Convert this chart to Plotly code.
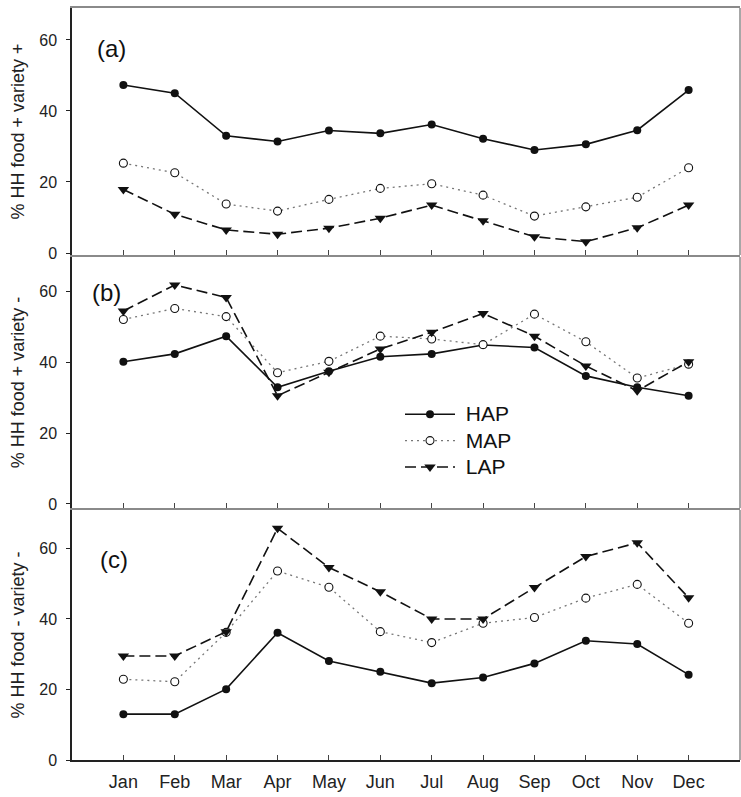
import plotly.graph_objects as go
from plotly.subplots import make_subplots

months = ["Jan", "Feb", "Mar", "Apr", "May", "Jun", "Jul", "Aug", "Sep", "Oct", "Nov", "Dec"]
month_idx = list(range(1, 13))

# Panel (a): % HH food + variety +
a_hap = [47.3, 45.0, 33.0, 31.4, 34.5, 33.7, 36.2, 32.2, 29.0, 30.6, 34.6, 45.9]
a_map = [25.3, 22.6, 13.8, 11.8, 15.1, 18.2, 19.5, 16.3, 10.4, 13.0, 15.7, 24.0]
a_lap = [17.9, 10.9, 6.5, 5.3, 7.0, 9.8, 13.5, 9.1, 4.6, 3.2, 7.1, 13.5]

# Panel (b): % HH food + variety -
b_hap = [40.1, 42.3, 47.3, 32.9, 37.4, 41.5, 42.3, 44.8, 44.1, 36.1, 32.9, 30.5]
b_map = [52.0, 55.1, 52.8, 37.0, 40.2, 47.3, 46.5, 44.9, 53.5, 45.7, 35.5, 39.4]
b_lap = [54.4, 61.7, 58.2, 30.5, 37.1, 43.7, 48.4, 53.7, 47.3, 38.9, 31.9, 40.1]

# Panel (c): % HH food - variety -
c_hap = [13.0, 13.0, 20.1, 36.1, 28.1, 25.0, 21.8, 23.4, 27.4, 33.8, 32.9, 24.2]
c_map = [22.9, 22.2, 36.2, 53.6, 49.0, 36.4, 33.3, 38.8, 40.4, 45.9, 49.8, 38.8]
c_lap = [29.5, 29.5, 36.4, 65.7, 54.6, 47.7, 40.0, 40.0, 48.9, 57.7, 61.6, 46.0]

y_titles = ["% HH food + variety +", "% HH food + variety -", "% HH food - variety -"]
panel_labels = ["(a)", "(b)", "(c)"]
series_names = ["HAP", "MAP", "LAP"]
y_ticks = [0, 20, 40, 60]

FONT = "Liberation Sans, Arial, sans-serif"
DARK = "#222222"
GRAY = "#8a8a8a"

fig = make_subplots(rows=3, cols=1, vertical_spacing=0)

panels = [(a_hap, a_map, a_lap), (b_hap, b_map, b_lap), (c_hap, c_map, c_lap)]
styles = [
    dict(line=dict(color="#111111", width=1.6),
         marker=dict(symbol="circle", size=8, color="#111111")),
    dict(line=dict(color="#777777", width=1.3, dash="2px,4px"),
         marker=dict(symbol="circle", size=8, color="white",
                     line=dict(color="#111111", width=1.1))),
    dict(line=dict(color="#111111", width=1.6, dash="11px,5px"),
         marker=dict(symbol="triangle-down", size=10, color="#111111")),
]

for r, vals in enumerate(panels, start=1):
    for name, v, st in zip(series_names, vals, styles):
        fig.add_trace(go.Scatter(x=month_idx, y=v, mode="lines+markers",
                                 name='<span style="font-size:21px">\u00a0' + name + '</span>',
                                 showlegend=(r == 2),
                                 line=st["line"], marker=st["marker"]),
                      row=r, col=1)

H = 752.0
def py(px):
    return (760 - px) / H

domains = [[py(255), 1.0], [py(508), py(257)], [0.0, py(510)]]
ranges = [[-0.56, 69.0], [-1.13, 69.6], [0, 70.9]]

for i in range(3):
    r = i + 1
    xline = DARK if r == 3 else GRAY
    fig.update_xaxes(row=r, col=1, range=[0, 13], tickvals=month_idx,
                     ticktext=months if r == 3 else [""] * 12,
                     showticklabels=(r == 3), automargin=False,
                     ticks="inside", ticklen=5, tickwidth=1.2, tickcolor="#444444",
                     showline=True, linecolor=xline, linewidth=1.5,
                     mirror=(r == 1), showgrid=False, zeroline=False,
                     ticklabelstandoff=5,
                     tickfont=dict(family=FONT, size=18, color="#222222"))
    fig.update_yaxes(row=r, col=1, range=ranges[i], domain=domains[i],
                     tickvals=y_ticks, ticks="outside", ticklen=4, tickwidth=1.2,
                     tickcolor=DARK, showline=True, linecolor=DARK, linewidth=1.5,
                     showgrid=False, zeroline=False, automargin=False,
                     ticklabelstandoff=6,
                     tickfont=dict(family=FONT, size=16, color="#222222"),
                     title=dict(text=y_titles[i], standoff=10,
                                font=dict(family=FONT, size=18, color="#222222")))
    xr = "x domain" if r == 1 else f"x{r} domain"
    yr = "y domain" if r == 1 else f"y{r} domain"
    fig.add_shape(type="line", xref=xr, yref=yr, x0=1, x1=1, y0=0, y1=1,
                  line=dict(color=GRAY, width=1.5))

label_pos = [(95, 48), (90, 292), (98, 559)]
for i, (lx, ly) in enumerate(label_pos):
    fig.add_annotation(text=panel_labels[i], xref="paper", yref="paper",
                       x=(lx - 72) / 668.0, y=py(ly), xanchor="left", yanchor="middle",
                       showarrow=False, font=dict(family=FONT, size=24, color="#111111"))

fig.update_layout(
    width=741, height=797,
    margin=dict(l=72, r=1, t=8, b=37),
    plot_bgcolor="white", paper_bgcolor="white",
    font=dict(family=FONT, color="#222222"),
    legend=dict(x=(400 - 72) / 668.0, y=py(396), xanchor="left", yanchor="top",
                bgcolor="rgba(0,0,0,0)", itemwidth=50,
                font=dict(family=FONT, size=18, color="#111111"),
                tracegroupgap=0),
    showlegend=True,
)

fig.write_html("out.html", config={"displayModeBar": False},
               post_script="document.body.style.margin='0';document.body.style.overflow='hidden';")
